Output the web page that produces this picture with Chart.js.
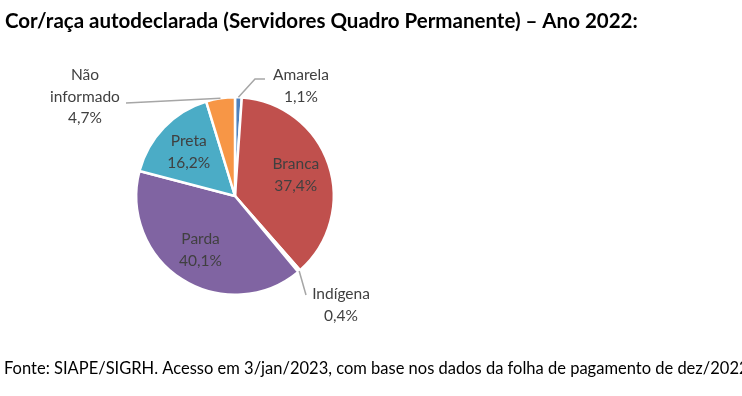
<!DOCTYPE html>
<html>
<head>
<meta charset="utf-8">
<script src="https://cdn.jsdelivr.net/npm/chart.js@4.4.1/dist/chart.umd.min.js"></script>
<style>
  html, body { margin: 0; padding: 0; background: #fff; }
  #wrap { width: 742px; height: 396px; position: relative; }
</style>
</head>
<body>
<div id="wrap"><canvas id="myChart" width="742" height="396"></canvas></div>
<script>
const labels = ['Amarela', 'Branca', 'Indígena', 'Parda', 'Preta', 'Não informado'];
const values = [1.1, 37.4, 0.4, 40.1, 16.2, 4.7];
const colors = ['#4f81bd', '#c0504d', '#9bbb59', '#8064a2', '#4bacc6', '#f79646'];

const title = 'Cor/raça autodeclarada (Servidores Quadro Permanente) – Ano 2022:';
const source = 'Fonte: SIAPE/SIGRH. Acesso em 3/jan/2023, com base nos dados da folha de pagamento de dez/2022';

const fmt = (v) => v.toFixed(1).replace('.', ',') + '%';
const labelFont = '15.5px Lato, "Open Sans", sans-serif';

// labels that sit outside the pie, with a leader line (offsets from pie centre)
const outside = {
    'Amarela': { elbow: [20, -117], end: [30, -117], text: [66, -121], lines: ['Amarela'] },
    'Indígena': { elbow: [71, 99], end: [71, 99], text: [106, 98], lines: ['Indígena'] },
    'Não informado': { elbow: [-109, -93], end: [-109, -93], text: [-150, -121], lines: ['Não', 'informado'] }
};

const pieLabels = {
    id: 'pieLabels',
    afterDraw(chart) {
        const ctx = chart.ctx;
        const arcs = chart.getDatasetMeta(0).data;
        ctx.save();
        ctx.textAlign = 'center';
        ctx.textBaseline = 'middle';
        ctx.font = labelFont;
        ctx.fillStyle = '#404040';
        arcs.forEach((arc, i) => {
            const name = labels[i];
            const o = outside[name];
            const cx = arc.x, cy = arc.y;
            const mid = (arc.startAngle + arc.endAngle) / 2;
            if (!o) {
                const r = arc.outerRadius * 0.65;
                const px = cx + Math.cos(mid) * r;
                const py = cy + Math.sin(mid) * r;
                ctx.fillText(name, px, py - 11);
                ctx.fillText(fmt(values[i]), px, py + 11);
                return;
            }
            const sx = cx + Math.cos(mid) * arc.outerRadius;
            const sy = cy + Math.sin(mid) * arc.outerRadius;
            ctx.strokeStyle = '#a6a6a6';
            ctx.lineWidth = 1.5;
            ctx.beginPath();
            ctx.moveTo(sx, sy);
            ctx.lineTo(cx + o.elbow[0], cy + o.elbow[1]);
            ctx.lineTo(cx + o.end[0], cy + o.end[1]);
            ctx.stroke();
            const all = o.lines.concat([fmt(values[i])]);
            all.forEach((t, k) => {
                ctx.fillText(t, cx + o.text[0], cy + o.text[1] + k * 21.5);
            });
        });
        // title and source
        ctx.textAlign = 'left';
        ctx.textBaseline = 'alphabetic';
        ctx.fillStyle = '#000';
        ctx.font = 'bold 20.5px Lato, "Open Sans", sans-serif';
        ctx.fillText(title, 5, 28);
        ctx.font = '16.5px Lato, "Open Sans", sans-serif';
        ctx.fillText(source, 4, 374);
        ctx.restore();
    }
};

new Chart(document.getElementById('myChart'), {
    type: 'pie',
    data: {
        labels: labels,
        datasets: [{
            data: values,
            backgroundColor: colors,
            borderColor: '#fff',
            borderWidth: 2.5
        }]
    },
    options: {
        responsive: false,
        animation: false,
        layout: { padding: { left: 135, right: 407, top: 96, bottom: 100 } },
        plugins: {
            legend: { display: false },
            tooltip: { enabled: false }
        }
    },
    plugins: [pieLabels]
});
</script>
</body>
</html>
